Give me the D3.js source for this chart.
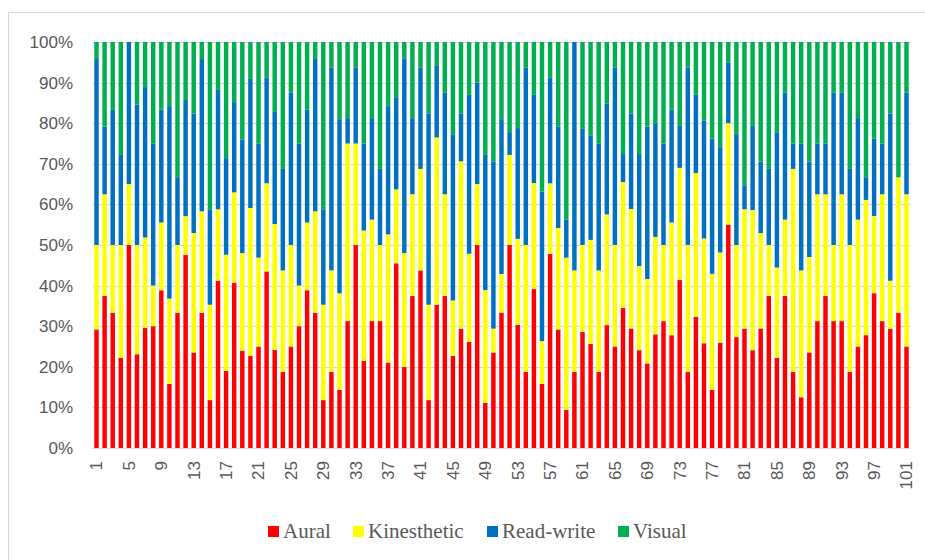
<!DOCTYPE html>
<html>
<head>
<meta charset="utf-8">
<script src="https://cdn.jsdelivr.net/npm/d3@7/dist/d3.min.js"></script>
<style>
  html, body { margin: 0; padding: 0; background: #fff; }
  svg { display: block; }
</style>
</head>
<body>
<svg id="chart" width="925" height="560"></svg>
<script>
// Learning-style preference share per respondent (percent of answers)
const respondents = d3.range(1, 102);
const aural = [29.2,37.5,33.3,22.2,50,23.1,29.6,30,38.9,15.8,33.3,47.6,23.5,33.3,11.8,41.2,19,40.7,24,22.7,25,43.5,24.1,18.75,25,30,38.9,33.3,11.8,18.75,14.3,31.25,50,21.4,31.25,31.25,21.05,45.5,20,37.5,43.75,11.8,35.3,37.5,22.7,29.4,26.1,50,11.1,23.5,33.3,50,30.3,18.75,39.1,15.8,47.8,29.2,9.4,18.75,28.6,25.6,18.75,30.3,25,34.5,29.4,24.1,20.8,28,31.25,27.8,41.4,18.75,32.3,25.8,14.3,25.9,55,27.3,29.4,24.1,29.4,37.5,22.2,37.5,18.75,12.5,23.5,31.25,37.5,31.25,31.25,18.75,25,27.8,38.1,31.25,29.4,33.3,25];
const kinesthetic = [20.8,25,16.7,27.8,15,26.9,22.2,10,16.7,21,16.7,9.5,29.4,25,23.5,17.6,28.6,22.2,24,36.4,21.9,21.7,31,25,25,10,16.7,25,23.5,25,23.8,43.75,25,32.1,25,18.75,31.6,18.2,28,25,25,23.5,41.2,25,13.6,41.2,21.7,15,27.8,5.9,9.5,22.2,21.2,31.25,26.1,10.5,17.4,25,37.5,25,21.4,25.6,25,27.3,25,31,29.4,20.7,20.8,24,18.75,27.8,27.6,31.25,35.5,25.8,28.6,22.2,25,22.7,29.4,34.5,23.5,12.5,22.2,18.75,50,31.25,23.5,31.25,25,18.75,31.25,31.25,31.25,33.3,19,31.25,11.8,33.3,37.5];
const readWrite = [45.8,16.7,33.3,22.2,35,34.6,37,35,27.8,47.4,16.7,28.6,29.4,37.5,23.5,29.4,23.8,22.2,28,31.8,28.1,26.1,27.6,25,37.5,35,27.8,37.5,23.5,50,42.9,6.25,18.75,21.4,25,18.75,31.6,22.7,48,18.75,25,47.1,17.6,25,40.9,11.8,39.1,25,33.3,41.2,38.1,5.6,27.3,43.75,21.7,36.8,26.1,25,9.4,56.25,28.6,25.6,31.25,27.3,43.75,6.9,23.5,27.6,37.5,28,25,27.8,10.3,43.75,19.4,29,33.3,25.9,15,27.3,5.9,20.7,17.6,18.75,33.3,31.25,6.25,31.25,23.5,12.5,12.5,37.5,25,18.75,25,5.6,19,12.5,41.2,0,25];
const visual = [4.2,20.8,16.7,27.8,0,15.4,11.1,25,16.7,15.8,33.3,14.3,17.6,4.2,41.2,11.8,28.6,14.8,24,9.1,25,8.7,17.2,31.25,12.5,25,16.7,4.2,41.2,6.25,19,18.75,6.25,25,18.75,31.25,15.8,13.6,4,18.75,6.25,17.6,5.9,12.5,22.7,17.6,13,10,27.8,29.4,19,22.2,21.2,6.25,13,36.8,8.7,20.8,43.75,0,21.4,23.1,25,15.2,6.25,27.6,17.6,27.6,20.8,20,25,16.7,20.7,6.25,12.9,19.4,23.8,25.9,5,22.7,35.3,20.7,29.4,31.25,22.2,12.5,25,25,29.4,25,25,12.5,12.5,31.25,18.75,33.3,23.8,25,17.6,33.3,12.5];

const seriesNames = ["Aural", "Kinesthetic", "Read-write", "Visual"];
const seriesColors = ["#FF0000", "#FFFF00", "#0070C0", "#00B050"];
const yTicks = [0, 0.1, 0.2, 0.3, 0.4, 0.5, 0.6, 0.7, 0.8, 0.9, 1];
const xTickLabels = d3.range(1, 102, 4);

const rows = respondents.map((id, i) => ({
  id,
  "Aural": aural[i],
  "Kinesthetic": kinesthetic[i],
  "Read-write": readWrite[i],
  "Visual": visual[i]
}));

const svg = d3.select("#chart");
const textColor = "#595959";

// outer chart frame
svg.append("rect")
  .attr("x", 8.5).attr("y", 12.5)
  .attr("width", 930).attr("height", 560)
  .attr("fill", "none").attr("stroke", "#d9d9d9").attr("stroke-width", 1);

const plot = { left: 92.5, right: 910.5, top: 42, bottom: 448 };

const x = d3.scaleBand()
  .domain(respondents)
  .range([plot.left, plot.right])
  .paddingInner(0.45)
  .paddingOuter(0.22);

const y = d3.scaleLinear().domain([0, 1]).range([plot.bottom, plot.top]);

// horizontal gridlines
svg.append("g")
  .selectAll("line")
  .data(yTicks)
  .join("line")
  .attr("x1", plot.left).attr("x2", plot.right)
  .attr("y1", d => Math.round(y(d)) + 0.5)
  .attr("y2", d => Math.round(y(d)) + 0.5)
  .attr("stroke", "#d9d9d9").attr("stroke-width", 1);

// y axis labels
const yAxis = d3.axisLeft(y)
  .tickValues(yTicks)
  .tickFormat(d3.format(".0%"))
  .tickSize(0)
  .tickPadding(0);
svg.append("g")
  .attr("transform", "translate(73,0)")
  .call(yAxis)
  .call(g => g.select(".domain").remove())
  .call(g => g.selectAll("text")
    .attr("fill", textColor)
    .style("font-family", "'Liberation Sans', Arial, sans-serif")
    .style("font-size", "17px"));

// 100% stacked bars
const stack = d3.stack().keys(seriesNames).offset(d3.stackOffsetExpand);
const layers = stack(rows);

svg.append("g")
  .selectAll("g")
  .data(layers)
  .join("g")
  .attr("fill", (d, i) => seriesColors[i])
  .selectAll("rect")
  .data(d => d)
  .join("rect")
  .attr("x", d => x(d.data.id))
  .attr("width", x.bandwidth())
  .attr("y", d => y(d[1]))
  .attr("height", d => Math.max(0, y(d[0]) - y(d[1])));

// baseline
svg.append("line")
  .attr("x1", plot.left).attr("x2", plot.right)
  .attr("y1", plot.bottom + 0.5).attr("y2", plot.bottom + 0.5)
  .attr("stroke", "#d9d9d9").attr("stroke-width", 1);

// x axis labels, rotated
const xAxis = d3.axisBottom(x)
  .tickValues(xTickLabels)
  .tickSize(0)
  .tickPadding(0);
svg.append("g")
  .attr("transform", `translate(0,${plot.bottom})`)
  .call(xAxis)
  .call(g => g.select(".domain").remove())
  .call(g => g.selectAll("text")
    .attr("fill", textColor)
    .style("font-family", "'Liberation Sans', Arial, sans-serif")
    .style("font-size", "17px")
    .attr("text-anchor", "end")
    .attr("dy", "0.35em")
    .attr("transform", "translate(0,13) rotate(-90)")
    .attr("y", 0)
    .attr("x", 0));

// legend
const legendX = [268, 353, 487, 618];
const legend = svg.append("g")
  .selectAll("g")
  .data(seriesNames)
  .join("g")
  .attr("transform", (d, i) => `translate(${legendX[i]},0)`);
legend.append("rect")
  .attr("x", 0).attr("y", 526)
  .attr("width", 11).attr("height", 11)
  .attr("fill", (d, i) => seriesColors[i]);
legend.append("text")
  .attr("x", 15).attr("y", 537.5)
  .attr("fill", textColor)
  .style("font-family", "'Liberation Serif', 'Times New Roman', serif")
  .style("font-size", "21px")
  .text(d => d);
</script>
</body>
</html>
